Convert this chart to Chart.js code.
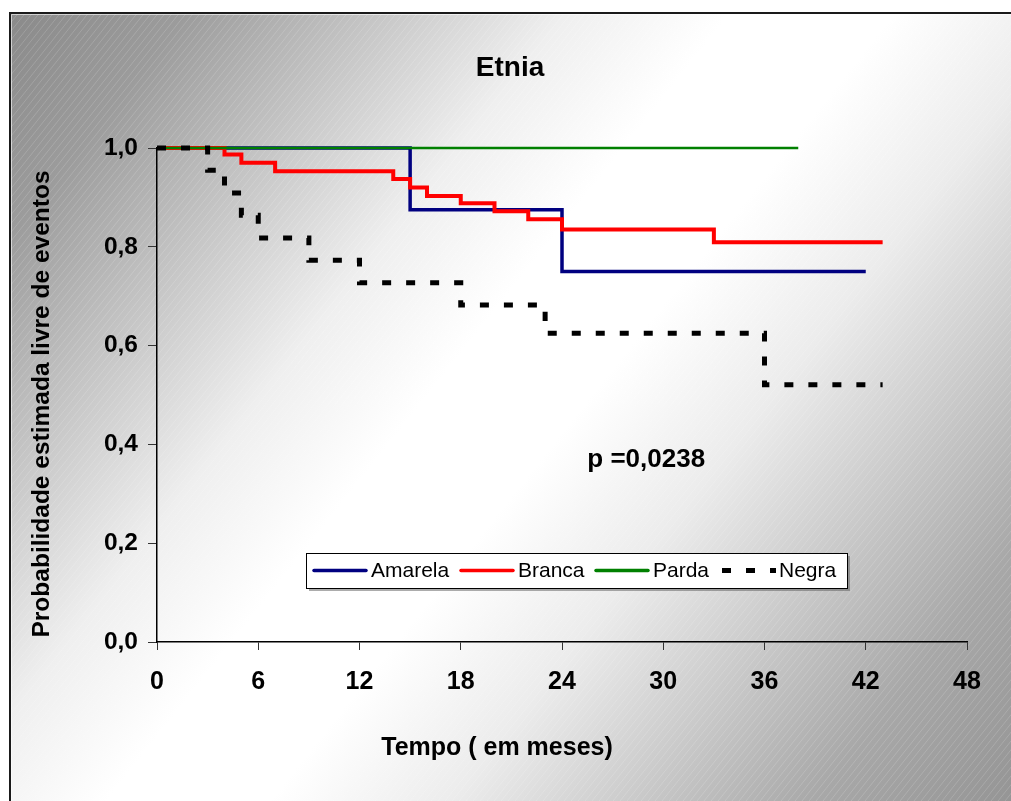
<!DOCTYPE html>
<html>
<head>
<meta charset="utf-8">
<script src="https://cdn.jsdelivr.net/npm/chart.js@4.4.1/dist/chart.umd.min.js"></script>
<style>
  html, body { margin: 0; padding: 0; background: #fff; }
  #wrap { width: 1011px; height: 801px; position: relative; }
</style>
</head>
<body>
<div id="wrap"><canvas id="km-chart"></canvas></div>
<script>
// --- Data ---
const amarelaTempo = [0, 15, 24, 42];
const amarelaProb  = [1, 0.875, 0.75, 0.75];

const brancaTempo = [0, 4, 5, 7, 14, 15, 16, 18, 20, 22, 24, 33, 43];
const brancaProb  = [1, 0.987, 0.970, 0.953, 0.937, 0.920, 0.903, 0.888, 0.872, 0.856, 0.835, 0.809, 0.809];

const pardaTempo = [0, 38];
const pardaProb  = [1, 1];

const negraTempo = [0, 3, 4, 5, 6, 9, 12, 18, 23, 36, 43];
const negraProb  = [1, 0.955, 0.909, 0.864, 0.818, 0.773, 0.727, 0.682, 0.625, 0.521, 0.521];

const xTicks = [0, 6, 12, 18, 24, 30, 36, 42, 48];
const yTicks = [0, 0.2, 0.4, 0.6, 0.8, 1.0];

const chartTitle = 'Etnia';
const xTitle = 'Tempo ( em meses)';
const yTitle = 'Probabilidade estimada livre de eventos';
const pValueText = 'p =0,0238';

const FONT = '"Liberation Sans", Arial, sans-serif';

function toPoints(xs, ys) {
      return xs.map((x, i) => ({ x: x, y: ys[i] }));
}

// background gradient + hatch + frame
const backgroundPlugin = {
      id: 'background',
      beforeDraw(chart) {
            const ctx = chart.ctx;
            const w = chart.width, h = chart.height;
            ctx.save();
            ctx.fillStyle = '#ffffff';
            ctx.fillRect(0, 0, w, h);

            const fx = 9, fy = 12;
            const grad = ctx.createLinearGradient(0, 0, w, h);
            grad.addColorStop(0, '#888888');
            grad.addColorStop(0.12, '#9c9c9c');
            grad.addColorStop(0.35, '#efefef');
            grad.addColorStop(0.45, '#ffffff');
            grad.addColorStop(0.55, '#ffffff');
            grad.addColorStop(0.66, '#ececec');
            grad.addColorStop(0.88, '#a8a8a8');
            grad.addColorStop(1, '#959595');
            ctx.fillStyle = grad;
            ctx.fillRect(fx, fy, w - fx, h - fy);

            // faint diagonal hatch
            ctx.beginPath();
            ctx.rect(fx, fy, w - fx, h - fy);
            ctx.clip();
            ctx.strokeStyle = 'rgba(255,255,255,0.16)';
            ctx.lineWidth = 1;
            for (let k = -h; k < w + h; k += 7) {
                  ctx.beginPath();
                  ctx.moveTo(k, h);
                  ctx.lineTo(k + h * 0.8, 0);
                  ctx.stroke();
            }
            ctx.restore();

            // frame
            ctx.save();
            ctx.strokeStyle = '#1a1a1a';
            ctx.lineWidth = 2;
            ctx.beginPath();
            ctx.moveTo(fx + 1, h + 2);
            ctx.lineTo(fx + 1, fy + 1);
            ctx.lineTo(w + 2, fy + 1);
            ctx.stroke();
            ctx.strokeStyle = 'rgba(255,255,255,0.6)';
            ctx.lineWidth = 1;
            ctx.beginPath();
            ctx.moveTo(fx + 2.5, h + 2);
            ctx.lineTo(fx + 2.5, fy + 2.5);
            ctx.lineTo(w + 2, fy + 2.5);
            ctx.stroke();
            ctx.restore();
      }
};

// titles, legend box and p-value
const annotationPlugin = {
      id: 'annotations',
      afterDatasetsDraw(chart) {
            const ctx = chart.ctx;
            const xs = chart.scales.x, ys = chart.scales.y;
            ctx.save();
            ctx.fillStyle = '#000';

            // chart title
            ctx.font = 'bold 28px ' + FONT;
            ctx.textAlign = 'center';
            ctx.textBaseline = 'middle';
            ctx.fillText(chartTitle, 510, 68);

            // x axis title
            ctx.font = 'bold 25px ' + FONT;
            ctx.fillText(xTitle, 497, 748);

            // y axis title
            ctx.save();
            ctx.translate(42, 404);
            ctx.rotate(-Math.PI / 2);
            ctx.font = 'bold 24.5px ' + FONT;
            ctx.fillText(yTitle, 0, 0);
            ctx.restore();

            // p-value
            ctx.font = 'bold 26px ' + FONT;
            ctx.textAlign = 'left';
            ctx.textBaseline = 'alphabetic';
            ctx.fillText(pValueText, xs.getPixelForValue(25.5), ys.getPixelForValue(0.355));

            // legend
            const box = { x: 306, y: 553, w: 541, h: 35 };
            ctx.fillStyle = 'rgba(90,90,90,0.5)';
            ctx.fillRect(box.x + 3, box.y + 3, box.w, box.h);
            ctx.fillStyle = '#ffffff';
            ctx.fillRect(box.x, box.y, box.w, box.h);
            ctx.strokeStyle = '#000';
            ctx.lineWidth = 1;
            ctx.strokeRect(box.x + 0.5, box.y + 0.5, box.w, box.h);

            const cy = box.y + box.h / 2;
            const starts = [314, 461, 596, 722];
            ctx.font = '21px ' + FONT;
            ctx.textBaseline = 'middle';
            ctx.textAlign = 'left';
            chart.data.datasets.forEach((ds, i) => {
                  const sx = starts[i];
                  ctx.beginPath();
                  ctx.strokeStyle = ds.borderColor;
                  ctx.lineWidth = ds.legendWidth;
                  ctx.lineCap = ds.borderDash ? 'butt' : 'round';
                  ctx.setLineDash(ds.borderDash || []);
                  ctx.moveTo(sx, cy);
                  ctx.lineTo(sx + (ds.borderDash ? 54 : 52), cy);
                  ctx.stroke();
                  ctx.setLineDash([]);
                  ctx.fillStyle = '#000';
                  ctx.fillText(ds.label, sx + 57, cy + 1);
            });
            ctx.restore();
      }
};

function drawKaplanMeierChart() {
      const ctx = document.getElementById('km-chart').getContext('2d');

      new Chart(ctx, {
            type: 'line',
            data: {
                  datasets: [
                        {
                              label: 'Amarela',
                              data: toPoints(amarelaTempo, amarelaProb),
                              borderColor: '#000080',
                              borderWidth: 3.5,
                              legendWidth: 3.5,
                              stepped: true,
                              order: 3
                        },
                        {
                              label: 'Branca',
                              data: toPoints(brancaTempo, brancaProb),
                              borderColor: '#ff0000',
                              borderWidth: 4,
                              legendWidth: 3.5,
                              stepped: true,
                              order: 2
                        },
                        {
                              label: 'Parda',
                              data: toPoints(pardaTempo, pardaProb),
                              borderColor: '#008000',
                              borderWidth: 2.5,
                              legendWidth: 3.5,
                              stepped: true,
                              order: 1
                        },
                        {
                              label: 'Negra',
                              data: toPoints(negraTempo, negraProb),
                              borderColor: '#000000',
                              borderWidth: 5,
                              legendWidth: 5,
                              borderDash: [9, 15],
                              borderCapStyle: 'butt',
                              stepped: true,
                              order: 0
                        }
                  ]
            },
            options: {
                  responsive: true,
                  maintainAspectRatio: false,
                  animation: false,
                  devicePixelRatio: 1,
                  layout: { padding: { left: 0, right: 44, top: 148, bottom: 0 } },
                  elements: {
                        point: { radius: 0, hoverRadius: 0 },
                        line: { fill: false, tension: 0, borderJoinStyle: 'miter' }
                  },
                  datasets: { line: { clip: 8 } },
                  scales: {
                        x: {
                              type: 'linear',
                              min: 0,
                              max: 48,
                              afterFit(scale) { scale.height = 159; },
                              afterBuildTicks(scale) { scale.ticks = xTicks.map(v => ({ value: v })); },
                              ticks: {
                                    padding: 17,
                                    color: '#000',
                                    font: { family: FONT, size: 25, weight: 'bold' },
                                    callback: v => String(v)
                              },
                              grid: { drawOnChartArea: false, drawTicks: true, tickLength: 8, color: '#333', lineWidth: 1 },
                              border: { display: true, color: '#000', width: 1.5 }
                        },
                        y: {
                              type: 'linear',
                              min: 0,
                              max: 1,
                              afterFit(scale) { scale.width = 157; },
                              afterBuildTicks(scale) { scale.ticks = yTicks.map(v => ({ value: v })); },
                              ticks: {
                                    padding: 10,
                                    color: '#000',
                                    font: { family: FONT, size: 24.5, weight: 'bold' },
                                    callback: v => Number(v).toFixed(1).replace('.', ',')
                              },
                              grid: { drawOnChartArea: false, drawTicks: true, tickLength: 9, color: '#333', lineWidth: 1 },
                              border: { display: true, color: '#000', width: 1.5 }
                        }
                  },
                  plugins: {
                        legend: { display: false },
                        tooltip: { enabled: false },
                        title: { display: false }
                  }
            },
            plugins: [backgroundPlugin, annotationPlugin]
      });
}

drawKaplanMeierChart();
</script>
</body>
</html>
